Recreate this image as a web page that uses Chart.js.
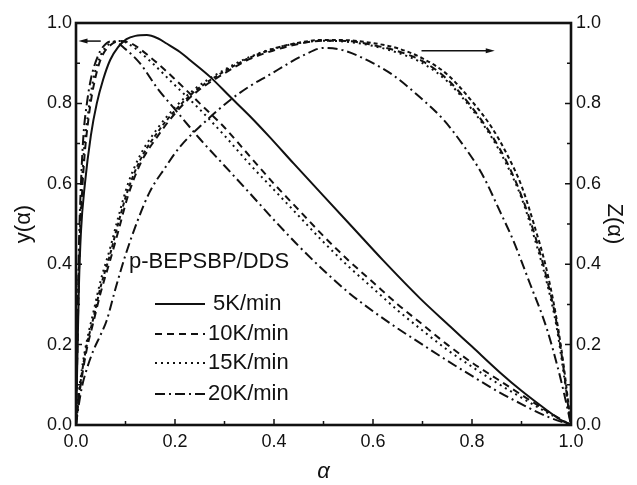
<!DOCTYPE html>
<html lang="en">
<head>
  <meta charset="UTF-8" />
  <title>y(α) and Z(α) curves</title>
  <script src="https://cdn.jsdelivr.net/npm/chart.js"></script>
  <style>
    body { margin: 0; background: #fff; }
    #wrap { width: 637px; height: 485px; }
  </style>
</head>
<body>
<div id="wrap"><canvas id="chart"></canvas></div>
<script>
  // y(α) curves
  const alpha5 = [0, 0.003, 0.006, 0.01, 0.018, 0.03, 0.042, 0.055, 0.069, 0.085, 0.102, 0.12, 0.143, 0.165, 0.183, 0.21, 0.23, 0.271, 0.311, 0.35, 0.39, 0.44, 0.5, 0.56, 0.62, 0.695, 0.756, 0.8, 0.857, 0.9, 0.95, 0.98, 1];
  const y5K = [0, 0.18, 0.35, 0.48, 0.6, 0.72, 0.8, 0.86, 0.908, 0.94, 0.96, 0.968, 0.97, 0.962, 0.949, 0.928, 0.908, 0.866, 0.817, 0.77, 0.718, 0.65, 0.57, 0.49, 0.41, 0.315, 0.245, 0.195, 0.13, 0.085, 0.038, 0.012, 0];

  const alphaMid = [0, 0.003, 0.006, 0.01, 0.016, 0.025, 0.035, 0.05, 0.07, 0.09, 0.11, 0.15, 0.2, 0.25, 0.3, 0.35, 0.4, 0.45, 0.5, 0.55, 0.6, 0.65, 0.7, 0.75, 0.8, 0.85, 0.9, 0.95, 1];
  const y10K = [0, 0.2, 0.38, 0.52, 0.65, 0.76, 0.84, 0.91, 0.945, 0.955, 0.95, 0.915, 0.86, 0.8, 0.74, 0.67, 0.6, 0.535, 0.47, 0.41, 0.355, 0.3, 0.25, 0.2, 0.155, 0.115, 0.075, 0.036, 0];
  const y15K = [0, 0.22, 0.4, 0.55, 0.68, 0.78, 0.86, 0.92, 0.95, 0.955, 0.945, 0.905, 0.845, 0.785, 0.72, 0.65, 0.585, 0.52, 0.455, 0.395, 0.34, 0.285, 0.235, 0.187, 0.145, 0.105, 0.068, 0.032, 0];

  const alpha20 = [0, 0.003, 0.006, 0.01, 0.015, 0.022, 0.03, 0.045, 0.06, 0.075, 0.1, 0.129, 0.166, 0.2, 0.25, 0.3, 0.35, 0.4, 0.45, 0.5, 0.55, 0.6, 0.65, 0.7, 0.75, 0.8, 0.85, 0.9, 0.95, 1];
  const y20K = [0, 0.25, 0.45, 0.6, 0.72, 0.8, 0.86, 0.92, 0.948, 0.955, 0.935, 0.9, 0.835, 0.785, 0.712, 0.645, 0.578, 0.51, 0.445, 0.385, 0.33, 0.283, 0.24, 0.2, 0.16, 0.122, 0.085, 0.052, 0.022, 0];

  // Z(α) curves
  const alphaZ = [0, 0.005, 0.012, 0.022, 0.035, 0.05, 0.069, 0.085, 0.105, 0.13, 0.163, 0.2, 0.24, 0.3, 0.35, 0.4, 0.45, 0.5, 0.55, 0.6, 0.65, 0.7, 0.75, 0.8, 0.84, 0.87, 0.9, 0.925, 0.95, 0.97, 0.985, 0.995, 1];
  const z5K = [0, 0.065, 0.13, 0.2, 0.265, 0.345, 0.425, 0.5, 0.585, 0.66, 0.725, 0.782, 0.83, 0.88, 0.913, 0.936, 0.951, 0.958, 0.957, 0.95, 0.937, 0.912, 0.872, 0.805, 0.74, 0.675, 0.595, 0.5, 0.39, 0.27, 0.15, 0.05, 0];
  const z10K = [0, 0.06, 0.12, 0.19, 0.255, 0.33, 0.41, 0.48, 0.57, 0.65, 0.715, 0.775, 0.825, 0.875, 0.91, 0.932, 0.948, 0.956, 0.955, 0.945, 0.93, 0.905, 0.86, 0.79, 0.72, 0.655, 0.57, 0.48, 0.37, 0.26, 0.14, 0.04, 0];
  const z15K = [0, 0.07, 0.14, 0.21, 0.28, 0.36, 0.44, 0.515, 0.6, 0.672, 0.735, 0.79, 0.836, 0.884, 0.915, 0.937, 0.95, 0.956, 0.953, 0.943, 0.926, 0.9, 0.855, 0.785, 0.715, 0.648, 0.565, 0.47, 0.36, 0.25, 0.13, 0.04, 0];
  const alphaZ20 = [0, 0.005, 0.012, 0.022, 0.035, 0.05, 0.062, 0.08, 0.099, 0.125, 0.149, 0.18, 0.21, 0.257, 0.311, 0.35, 0.392, 0.43, 0.46, 0.5, 0.54, 0.6, 0.641, 0.695, 0.742, 0.78, 0.82, 0.857, 0.883, 0.917, 0.951, 0.978, 0.993, 1];
  const z20K = [0, 0.045, 0.095, 0.14, 0.185, 0.225, 0.26, 0.34, 0.419, 0.51, 0.58, 0.64, 0.692, 0.75, 0.808, 0.842, 0.872, 0.9, 0.92, 0.938, 0.932, 0.9, 0.87, 0.815, 0.76, 0.7, 0.625, 0.53, 0.46, 0.352, 0.24, 0.12, 0.04, 0];

  const axisTicks = [0, 0.2, 0.4, 0.6, 0.8, 1.0];
  const rateLabels = ['5K/min', '10K/min', '15K/min', '20K/min'];
  const seriesTitle = 'p-BEPSBP/DDS';

  const FONT = "'Liberation Sans', Arial, sans-serif";
  const INK = '#111';
  const dashes = [[], [7, 5], [2, 4], [10, 4, 2, 4]];

  function pts(xs, ys) {
    return xs.map((x, i) => ({ x, y: ys[i] }));
  }

  function line(label, xs, ys, dash, axis) {
    return {
      label,
      data: pts(xs, ys),
      yAxisID: axis,
      borderColor: INK,
      borderWidth: 2,
      borderDash: dash,
      pointRadius: 0,
      fill: false,
      cubicInterpolationMode: 'monotone'
    };
  }

  const datasets = [
    line('y 5K', alpha5, y5K, dashes[0], 'y'),
    line('y 10K', alphaMid, y10K, dashes[1], 'y'),
    line('y 15K', alphaMid, y15K, dashes[2], 'y'),
    line('y 20K', alpha20, y20K, dashes[3], 'y'),
    line('Z 5K', alphaZ, z5K, [4, 3], 'y2'),
    line('Z 10K', alphaZ, z10K, dashes[1], 'y2'),
    line('Z 15K', alphaZ, z15K, dashes[2], 'y2'),
    line('Z 20K', alphaZ20, z20K, dashes[3], 'y2')
  ];

  // frame, inward ticks, arrows and legend
  const decor = {
    id: 'decor',
    afterDatasetsDraw(chart) {
      const { ctx, chartArea: a, scales } = chart;
      const xs = scales.x, ys = scales.y;
      ctx.save();
      ctx.strokeStyle = INK;
      ctx.fillStyle = INK;
      ctx.setLineDash([]);

      // ticks every 0.1
      ctx.lineWidth = 1.5;
      for (let i = 0; i <= 10; i++) {
        const v = i / 10;
        const len = i % 2 === 0 ? 6 : 4;
        const px = xs.getPixelForValue(v);
        const py = ys.getPixelForValue(v);
        ctx.beginPath();
        ctx.moveTo(px, a.bottom); ctx.lineTo(px, a.bottom - len);
        ctx.moveTo(a.left, py); ctx.lineTo(a.left + len, py);
        ctx.moveTo(a.right, py); ctx.lineTo(a.right - len, py);
        ctx.stroke();
      }

      // frame
      ctx.lineWidth = 2.6;
      ctx.strokeRect(a.left, a.top, a.right - a.left, a.bottom - a.top);

      // arrows
      function arrow(x0, x1, yv) {
        const p0 = xs.getPixelForValue(x0), p1 = xs.getPixelForValue(x1);
        const py = ys.getPixelForValue(yv);
        const dir = Math.sign(p1 - p0);
        ctx.lineWidth = 1.5;
        ctx.beginPath();
        ctx.moveTo(p0, py); ctx.lineTo(p1 - dir * 6, py);
        ctx.stroke();
        ctx.beginPath();
        ctx.moveTo(p1, py);
        ctx.lineTo(p1 - dir * 9, py - 2.5);
        ctx.lineTo(p1 - dir * 9, py + 2.5);
        ctx.closePath();
        ctx.fill();
      }
      arrow(0.05, 0.005, 0.955);
      arrow(0.698, 0.846, 0.931);

      // legend
      ctx.font = '22px ' + FONT;
      ctx.textBaseline = 'middle';
      ctx.textAlign = 'left';
      ctx.fillText(seriesTitle, 129, 262);
      const rowY = [304, 334, 363, 394];
      rateLabels.forEach((lab, i) => {
        ctx.lineWidth = 2;
        ctx.setLineDash(dashes[i]);
        ctx.beginPath();
        ctx.moveTo(155, rowY[i]);
        ctx.lineTo(205, rowY[i]);
        ctx.stroke();
        ctx.setLineDash([]);
        ctx.fillText(lab, i === 0 ? 213 : 208, rowY[i]);
      });
      ctx.restore();
    }
  };

  const tickFont = { family: FONT, size: 18 };
  const titleFont = { family: FONT, size: 22 };

  new Chart(document.getElementById('chart'), {
    type: 'line',
    data: { datasets },
    plugins: [decor],
    options: {
      responsive: true,
      maintainAspectRatio: false,
      animation: false,
      layout: { padding: { top: 23, right: 0, left: 0, bottom: 0 } },
      plugins: { legend: { display: false }, tooltip: { enabled: false } },
      scales: {
        x: {
          type: 'linear',
          min: 0, max: 1,
          afterBuildTicks: s => { s.ticks = axisTicks.map(v => ({ value: v })); },
          afterFit: s => { s.height = 60; },
          grid: { display: false, drawTicks: false },
          border: { display: false },
          ticks: { color: INK, font: tickFont, padding: 6, maxRotation: 0, callback: v => v.toFixed(1) },
          title: { display: true, text: 'α', color: INK, font: { ...titleFont, style: 'italic' }, padding: { top: 4, bottom: 0 } }
        },
        y: {
          position: 'left',
          min: 0, max: 1,
          afterBuildTicks: s => { s.ticks = axisTicks.map(v => ({ value: v })); },
          afterFit: s => { s.width = 76; },
          grid: { display: false, drawTicks: false },
          border: { display: false },
          ticks: { color: INK, font: tickFont, padding: 4, callback: v => v.toFixed(1) },
          title: { display: true, text: 'y(α)', color: INK, font: titleFont, padding: { top: 11, bottom: 0 } }
        },
        y2: {
          position: 'right',
          min: 0, max: 1,
          afterBuildTicks: s => { s.ticks = axisTicks.map(v => ({ value: v })); },
          afterFit: s => { s.width = 66; },
          grid: { display: false, drawTicks: false },
          border: { display: false },
          ticks: { color: INK, font: tickFont, padding: 5, callback: v => v.toFixed(1) },
          title: { display: true, text: 'Z(α)', color: INK, font: titleFont, padding: { top: 10, bottom: 0 } }
        }
      }
    }
  });
</script>
</body>
</html>
